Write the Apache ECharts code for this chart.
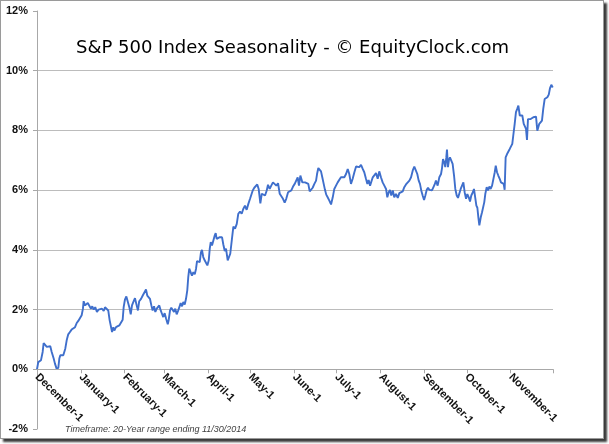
<!DOCTYPE html>
<html>
<head>
<meta charset="utf-8">
<script src="https://cdn.jsdelivr.net/npm/echarts@6/dist/echarts.min.js"></script>
<style>
html,body{margin:0;padding:0;background:#fff;}
#frame{position:absolute;left:0;top:0;width:602px;height:437px;border:1px solid #9a9a9a;box-shadow:3px 3px 2px #3a3a3a;background:#fff;}
#chart{position:absolute;left:0;top:0;width:602px;height:437px;}
</style>
</head>
<body>
<div id="frame"><div id="chart"></div></div>
<script>
// Calendar-day offset from December 1 (x) and seasonal return in % (y)
const days = [0,0.5,0.9,1.9,2.8,4.0,4.7,5.7,6.9,8.0,9.4,10.4,11.8,12.7,14.1,15.1,15.8,16.5,17.5,18.6,19.3,20.0,21.0,22.1,23.3,24.5,25.7,26.9,28.1,29.2,30.4,31.6,32.5,33.0,34.0,34.9,35.9,37.0,38.2,39.1,40.1,41.2,42.4,43.6,44.8,46.0,47.2,48.1,49.5,50.4,51.4,52.3,53.1,54.0,54.7,55.9,57.1,58.2,59.4,60.6,61.3,62.2,63.2,64.2,65.3,66.3,
67.2,68.1,69.3,70.5,71.4,72.3,73.6,74.8,75.9,77.1,78.0,79.0,79.9,80.9,81.8,82.8,83.7,84.7,85.6,86.5,87.5,88.4,89.3,90.3,91.3,92.5,93.2,94.1,95.0,96.0,96.9,97.8,98.8,99.7,100.7,101.6,102.6,103.5,104.5,105.4,106.3,107.0,107.7,108.7,109.6,110.6,111.6,112.5,113.2,114.1,115.1,116.0,116.7,117.6,118.6,119.5,120.5,121.5,122.2,122.9,123.8,124.7,125.7,126.4,127.1,128.0,129.0,129.9,130.9,131.8,132.8,133.7,134.9,135.8,136.7,137.9,138.9,140.1,141.3,142.4,143.6,144.8,145.9,147.1,148.3,149.5,150.7,151.9,152.6,153.7,154.7,155.8,156.8,158.0,159.0,160.1,161.3,162.5,163.4,164.6,165.7,166.9,168.1,169.3,170.5,171.7,172.8,174.0,175.2,176.3,177.6,178.8,179.9,181.1,182.3,183.4,184.4,185.3,186.3,
187.7,188.7,189.6,190.5,191.9,192.9,193.8,195.0,196.2,197.4,198.1,199.0,200.0,200.9,201.8,202.8,203.7,204.6,205.6,206.8,208.0,209.2,210.3,211.5,212.7,213.8,215.0,216.2,217.4,218.6,219.8,220.9,222.1,223.3,224.5,225.7,226.9,228.0,229.2,230.4,231.5,232.7,233.7,234.6,235.6,236.5,237.5,238.6,239.8,241.0,242.1,243.3,244.5,245.7,246.9,247.8,248.8,249.7,250.6,251.7,252.7,253.9,255.2,256.3,257.5,258.7,259.8,261.0,262.3,263.4,264.6,265.8,266.9,268.1,269.0,270.0,270.9,271.8,272.8,273.8,274.7,275.7,276.6,277.5,278.5,279.4,280.3,281.3,282.2,283.4,284.6,285.8,
286.5,287.2,288.1,288.8,289.5,290.0,290.7,291.4,292.1,293.0,294.0,295.0,295.9,296.9,297.8,298.7,299.7,300.6,301.6,302.5,303.5,304.4,305.4,306.3,307.2,308.3,309.1,310.0,310.8,311.5,312.2,312.9,313.9,314.8,315.7,316.4,317.1,318.1,319.0,320.0,320.9,321.9,322.8,323.8,324.5,325.4,326.3,327.3,328.2,329.1,330.1,330.8,331.5,332.5,333.4,334.4,335.3,336.2,336.9,337.9,338.8,339.7,340.5,341.5,342.4,343.3,344.3,345.2,345.9,346.6,347.3,348.2,349.2,350.2,351.1,352.1,353.0,353.9,354.6,355.3,356.3,357.2,358.1,359.1,360.1,361.0,362.0,362.9,363.8,364.8];
const values = [0,0.02,0.24,0.19,0.30,0.58,0.88,0.86,0.75,0.78,0.77,0.58,0.36,0.19,-0.01,0.06,0.36,0.47,0.41,0.47,0.43,0.69,0.97,1.17,1.25,1.33,1.28,1.41,1.55,1.62,1.58,1.81,2.03,2.28,2.14,2.08,2.22,2.17,2.03,2.11,2.00,2.08,1.92,2.00,1.95,2.03,1.95,2.08,2.06,1.97,1.64,1.58,1.25,1.41,1.30,1.41,1.36,1.47,1.44,1.66,2.08,2.33,2.44,2.38,2.08,1.84,
2.14,2.25,2.38,2.14,1.97,2.28,2.36,2.47,2.53,2.67,2.47,2.51,2.36,2.14,1.97,2.11,1.92,2.03,2.08,2.14,1.97,1.86,1.75,1.88,1.70,1.51,1.66,1.97,2.06,2.00,1.92,2.03,1.84,1.95,2.08,2.22,2.11,2.25,2.17,2.36,2.64,3.09,3.37,3.31,3.14,3.25,3.18,3.37,3.62,3.67,3.59,3.92,4.00,3.76,3.65,3.70,3.48,3.65,4.04,4.26,4.15,4.20,4.48,4.56,4.37,4.31,4.42,4.48,4.42,4.18,3.96,4.04,3.65,3.59,3.87,4.37,4.78,4.71,4.87,5.21,5.28,5.21,5.37,5.48,5.34,5.54,5.71,5.76,5.99,6.08,6.04,6.19,6.04,5.56,5.88,5.93,5.82,5.99,6.18,6.04,6.15,6.26,6.21,6.15,6.23,5.88,5.90,5.71,5.58,5.71,5.93,5.99,5.99,6.12,6.21,6.26,6.43,6.15,6.49,
6.26,6.30,6.26,6.23,6.21,5.96,5.93,6.08,6.21,6.32,6.54,6.74,6.77,6.63,6.43,6.21,6.01,5.85,5.76,5.65,5.52,5.76,6.04,6.15,6.26,6.32,6.43,6.49,6.43,6.54,6.71,6.54,6.21,6.38,6.60,6.79,6.82,6.77,6.85,6.71,6.60,6.38,6.21,6.34,6.15,6.21,6.43,6.45,6.57,6.38,6.63,6.43,6.26,6.15,6.04,5.76,5.93,6.01,5.82,5.99,5.76,5.87,5.74,5.90,5.85,5.96,6.10,6.19,6.15,6.32,6.43,6.66,6.79,6.74,6.54,6.32,6.21,5.99,5.82,5.67,5.82,6.01,6.08,6.01,6.04,5.99,6.01,6.19,6.32,6.15,6.43,6.54,
6.74,7.04,6.93,6.77,7.08,7.36,6.77,7.01,7.10,7.04,6.88,6.49,6.04,5.82,5.74,5.79,6.04,6.01,6.26,5.93,5.71,5.87,5.76,5.62,5.82,5.93,6.04,5.99,5.48,5.41,5.09,4.82,5.09,5.26,5.32,5.60,5.87,6.10,5.99,6.12,6.04,6.15,6.21,6.60,6.82,6.60,6.49,6.38,6.26,6.32,6.21,6.01,7.10,7.21,7.23,7.38,7.43,7.55,7.83,8.22,8.61,8.72,8.83,8.50,8.46,8.50,8.22,8.13,8.05,7.68,8.38,8.41,8.38,8.44,8.44,8.41,8.46,7.99,7.94,8.22,8.27,8.33,8.72,9.05,9.11,9.11,9.20,9.42,9.53,9.44];
// Month starts (day offset from Dec 1) and their labels
const monthTicks = [0,31,62,90,121,151,182,212,243,274,304,335,365];
const monthLabels = ['December-1','January-1','February-1','March-1','April-1','May-1','June-1','July-1','August-1','September-1','October-1','November-1'];
const yMin = -2, yMax = 12, yStep = 2;
const titleText = 'S&P 500 Index Seasonality - \u00A9 EquityClock.com';
const footerText = 'Timeframe: 20-Year range ending 11/30/2014';

const W = 602, H = 437;
const G = {left:36, right:50, top:10, bottom:9};
// second grid ends at the value 0 so its bottom x axis sits on the zero line
const plotH = H - G.top - G.bottom;
const zeroY = G.top + (yMax - 0) / (yMax - yMin) * plotH;
const axisGray = '#a8a8a8', gridGray = '#bcbcbc';

const chart = echarts.init(document.getElementById('chart'), null, {renderer:'canvas'});
const seriesData = days.map((d,i)=>[d, values[i]]);
const xLabelCommon = {
  customValues:monthTicks.slice(0,12), rotate:-45, margin:6, hideOverlap:false,
  fontFamily:'Liberation Sans', fontWeight:'bold', fontSize:11, color:'#111',
  formatter:function(v){ const i = monthTicks.indexOf(v); return i>=0 && i<12 ? monthLabels[i] : ''; }
};
chart.setOption({
  animation:false,
  backgroundColor:'#fff',
  title:{
    text:titleText, left:70, top:33,
    textStyle:{fontFamily:'DejaVu Sans', fontSize:18, fontWeight:'normal', color:'#000'}
  },
  graphic:[{
    type:'text', left:64, top:424,
    style:{text:footerText, fontFamily:'Liberation Sans', fontStyle:'italic', fontSize:9, fill:'#404040'}
  }],
  grid:[
    {left:G.left, right:G.right, top:G.top, bottom:G.bottom, outerBoundsMode:'none'},
    {left:G.left, right:G.right, top:G.top, bottom:H - zeroY, outerBoundsMode:'none'}
  ],
  xAxis:[
    {gridIndex:0, type:'value', min:0, max:365, show:false},
    {gridIndex:1, type:'value', min:0, max:365, position:'bottom',
      splitLine:{show:false},
      axisLine:{show:true, onZero:false, lineStyle:{color:axisGray, width:1}},
      axisTick:{show:true, customValues:monthTicks, length:4, lineStyle:{color:axisGray}},
      axisLabel:xLabelCommon, z:6}
  ],
  yAxis:[
    {gridIndex:0, type:'value', min:yMin, max:yMax, interval:yStep,
      axisLine:{show:true, onZero:false, lineStyle:{color:axisGray}},
      axisTick:{show:true, length:4, lineStyle:{color:axisGray}},
      splitLine:{show:true, showMinLine:false, showMaxLine:false, lineStyle:{color:gridGray, width:1}},
      axisLabel:{margin:9, fontFamily:'Liberation Sans', fontWeight:'bold', fontSize:11, color:'#111', formatter:function(v){return v+'%';}}},
    {gridIndex:1, type:'value', min:0, max:yMax, show:false}
  ],
  series:[{
    type:'line', xAxisIndex:0, yAxisIndex:0, data:seriesData, showSymbol:false, smooth:false,
    lineStyle:{color:'#3F6FCC', width:1.9}, z:5
  }]
});
</script>
</body>
</html>
